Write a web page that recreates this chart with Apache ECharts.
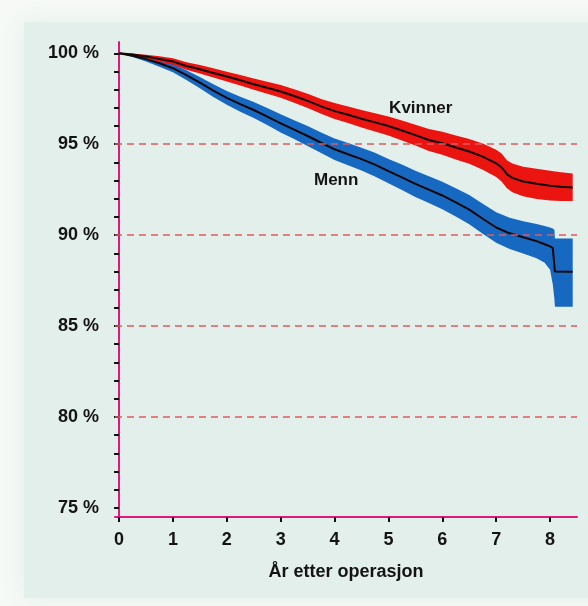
<!DOCTYPE html>
<html>
<head>
<meta charset="utf-8">
<script src="https://cdn.jsdelivr.net/npm/echarts@6/dist/echarts.min.js"></script>
<style>
  html, body { margin: 0; padding: 0; background: #f6f9f6; }
  #chart { width: 588px; height: 606px; }
</style>
</head>
<body>
<div id="chart"></div>
<script>
// Kaplan–Meier survival of the implant, by sex, with 95 % confidence band
const kvinnerYears = [0, 0.25, 0.5, 0.75, 1, 1.25, 1.5, 1.75, 2, 2.25, 2.5, 2.75, 3, 3.25, 3.5, 3.75, 4, 4.25, 4.5, 4.75, 5, 5.25, 5.5, 5.75, 6, 6.25, 6.5, 6.75, 7, 7.1, 7.2, 7.3, 7.5, 7.75, 8, 8.2, 8.42];
const kvinnerSurv  = [100, 99.93, 99.82, 99.68, 99.55, 99.3, 99.12, 98.92, 98.72, 98.52, 98.3, 98.1, 97.9, 97.65, 97.38, 97.08, 96.82, 96.62, 96.4, 96.2, 96.0, 95.75, 95.5, 95.23, 95.05, 94.82, 94.6, 94.32, 93.95, 93.72, 93.35, 93.15, 92.95, 92.82, 92.72, 92.66, 92.62];
const kvinnerLow   = [100, 99.87, 99.72, 99.53, 99.37, 99.09, 98.89, 98.67, 98.45, 98.23, 97.99, 97.77, 97.55, 97.28, 96.99, 96.67, 96.38, 96.16, 95.92, 95.7, 95.48, 95.2, 94.93, 94.63, 94.42, 94.16, 93.92, 93.6, 93.2, 92.95, 92.58, 92.36, 92.14, 91.99, 91.9, 91.88, 91.87];
const kvinnerHigh  = [100, 99.99, 99.92, 99.83, 99.73, 99.51, 99.35, 99.17, 98.99, 98.81, 98.61, 98.43, 98.25, 98.02, 97.77, 97.49, 97.26, 97.08, 96.88, 96.7, 96.52, 96.3, 96.07, 95.83, 95.68, 95.48, 95.28, 95.04, 94.7, 94.49, 94.12, 93.94, 93.76, 93.65, 93.54, 93.46, 93.39];

const mennYears = [0, 0.25, 0.5, 0.75, 1, 1.25, 1.5, 1.75, 2, 2.25, 2.5, 2.75, 3, 3.25, 3.5, 3.75, 4, 4.25, 4.5, 4.75, 5, 5.25, 5.5, 5.75, 6, 6.25, 6.5, 6.75, 7, 7.25, 7.5, 7.75, 7.9, 8.0, 8.05, 8.08, 8.09, 8.42];
const mennSurv  = [100, 99.86, 99.68, 99.45, 99.18, 98.8, 98.38, 97.95, 97.55, 97.2, 96.88, 96.52, 96.15, 95.8, 95.45, 95.08, 94.72, 94.45, 94.18, 93.88, 93.52, 93.18, 92.82, 92.5, 92.18, 91.8, 91.4, 90.9, 90.42, 90.1, 89.88, 89.67, 89.5, 89.38, 89.3, 89.25, 88.0, 87.98];
const mennLow   = [100, 99.79, 99.55, 99.26, 98.95, 98.53, 98.07, 97.6, 97.17, 96.79, 96.44, 96.05, 95.65, 95.28, 94.9, 94.51, 94.13, 93.84, 93.55, 93.23, 92.85, 92.48, 92.1, 91.76, 91.42, 91.02, 90.6, 90.08, 89.58, 89.24, 88.99, 88.73, 88.48, 88.1, 87.3, 86.5, 86.06, 86.06];
const mennHigh  = [100, 99.93, 99.81, 99.64, 99.41, 99.07, 98.69, 98.3, 97.93, 97.61, 97.32, 96.99, 96.65, 96.32, 96.0, 95.65, 95.31, 95.06, 94.81, 94.53, 94.19, 93.88, 93.54, 93.24, 92.94, 92.58, 92.2, 91.72, 91.26, 90.96, 90.77, 90.61, 90.5, 90.42, 90.36, 90.3, 89.82, 89.82];

// group names and where they are written on the plot (year, percent)
const groupNames = ['Kvinner', 'Menn'];
const groupLabelAt = [[5.6, 96.95], [4.03, 93.02]];

const xTicks = [0, 1, 2, 3, 4, 5, 6, 7, 8];
const yTicks = [75, 76, 77, 78, 79, 80, 81, 82, 83, 84, 85, 86, 87, 88, 89, 90, 91, 92, 93, 94, 95, 96, 97, 98, 99, 100];
const yLabels = [75, 80, 85, 90, 95, 100];
const gridLevels = [80, 85, 90, 95];
const xTitle = 'År etter operasjon';

const FONT = '"Liberation Sans", Arial, sans-serif';
const INK = '#141414';

function bandSeries(xs, lo, hi, color) {
  return {
    type: 'custom',
    data: [0],
    silent: true,
    z: 2,
    renderItem: function (params, api) {
      const pts = [];
      for (let i = 0; i < xs.length; i++) pts.push(api.coord([xs[i], hi[i]]));
      for (let i = xs.length - 1; i >= 0; i--) pts.push(api.coord([xs[i], lo[i]]));
      return { type: 'polygon', shape: { points: pts }, style: { fill: color } };
    }
  };
}

function lineSeries(xs, ys) {
  return {
    type: 'line',
    data: xs.map((t, i) => [t, ys[i]]),
    showSymbol: false,
    silent: true,
    z: 3,
    lineStyle: { color: '#140606', width: 2 }
  };
}

const chart = echarts.init(document.getElementById('chart'), null, { renderer: 'canvas' });

chart.setOption({
  animation: false,
  backgroundColor: 'transparent',
  graphic: [{
    type: 'rect',
    z: -10,
    silent: true,
    shape: { x: 24, y: 22, width: 600, height: 576 },
    style: { fill: '#e3efeb', shadowBlur: 22, shadowColor: '#e3efeb' }
  }],
  grid: { left: 115, top: 42, width: 462, height: 475, containLabel: false },
  xAxis: {
    type: 'value',
    min: -0.075,
    max: 8.5,
    name: xTitle,
    nameLocation: 'middle',
    nameGap: 46,
    nameTextStyle: { fontFamily: FONT, fontSize: 18, fontWeight: 'bold', color: INK },
    axisLine: { show: true, lineStyle: { color: '#e2177d', width: 2 } },
    axisTick: { show: true, customValues: xTicks, length: 5, lineStyle: { color: '#111', width: 2 } },
    axisLabel: { customValues: xTicks, margin: 14, fontFamily: FONT, fontSize: 18, fontWeight: 'bold', color: INK },
    splitLine: { show: false }
  },
  yAxis: {
    type: 'value',
    min: 74.5,
    max: 100.62,
    axisLine: { show: true, lineStyle: { color: '#e2177d', width: 2 } },
    axisTick: { show: true, customValues: yTicks, length: 5, lineStyle: { color: '#111', width: 2 } },
    axisLabel: {
      customValues: yLabels, margin: 16, fontFamily: FONT, fontSize: 18, fontWeight: 'bold', color: INK,
      formatter: v => v + ' %'
    },
    splitLine: { show: false }
  },
  series: [
    bandSeries(mennYears, mennLow, mennHigh, '#1668c0'),
    bandSeries(kvinnerYears, kvinnerLow, kvinnerHigh, '#ea1410'),
    Object.assign(lineSeries(mennYears, mennSurv), {
      markLine: {
        silent: true,
        symbol: 'none',
        label: { show: false },
        lineStyle: { color: '#e2585e', type: [7, 5], width: 1.5 },
        data: gridLevels.map(v => ({ yAxis: v }))
      }
    }),
    lineSeries(kvinnerYears, kvinnerSurv),
    {
      type: 'scatter',
      silent: true,
      z: 5,
      symbol: 'circle',
      symbolSize: 0,
      data: groupLabelAt.map((p, i) => ({ value: p, name: groupNames[i] })),
      label: {
        show: true, position: [0, 0], align: 'center', verticalAlign: 'middle',
        formatter: '{b}', opacity: 1, textBorderWidth: 0,
        fontFamily: FONT, fontSize: 17, fontWeight: 'bold', color: INK
      }
    }
  ]
});
</script>
</body>
</html>
